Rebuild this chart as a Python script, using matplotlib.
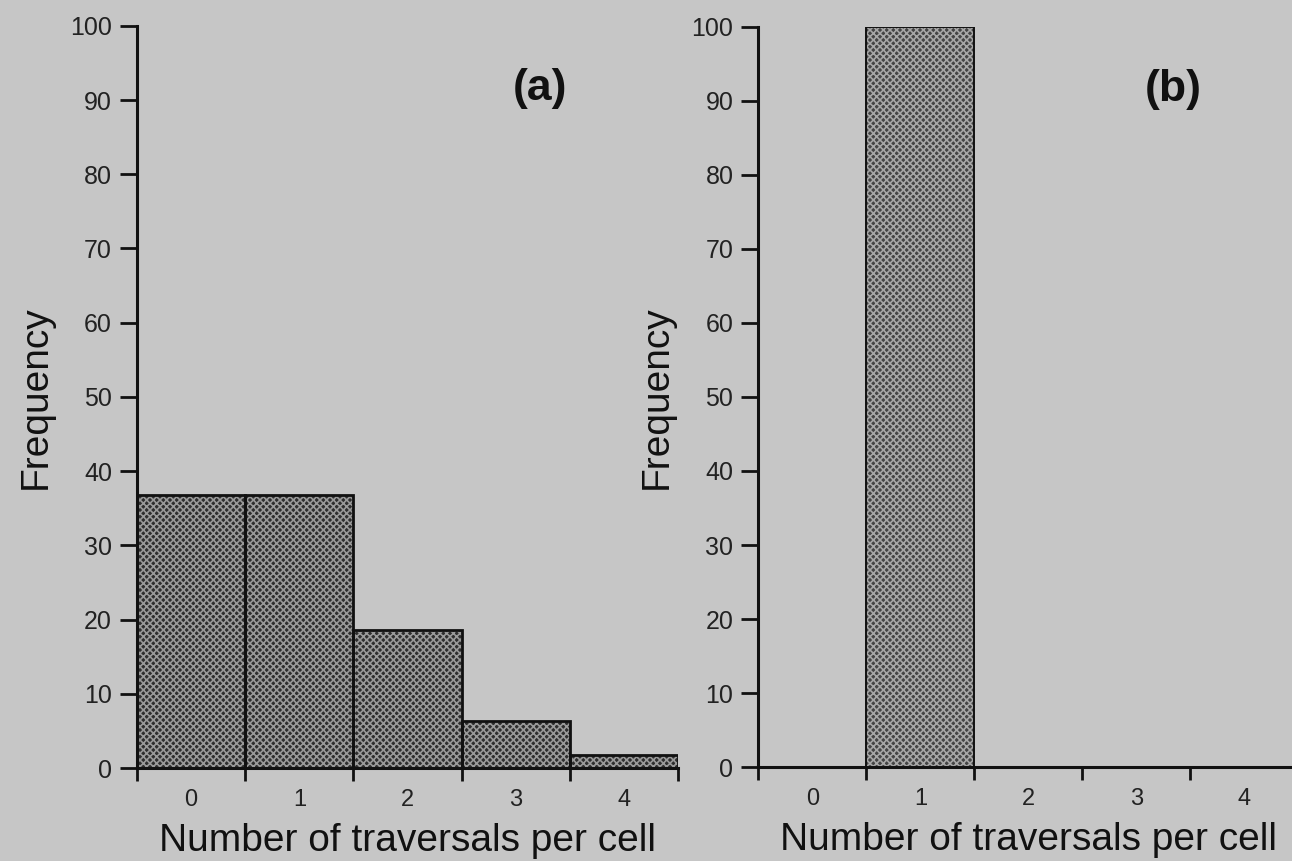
import numpy as np
import matplotlib
matplotlib.use('Agg')
import matplotlib.pyplot as plt

plt.rcParams['font.family'] = ['Liberation Sans', 'DejaVu Sans']
plt.rcParams['hatch.linewidth'] = 1.2

# data
traversals = [0, 1, 2, 3, 4]
freq_a = [36.8, 36.8, 18.6, 6.4, 1.7]
freq_b = [0, 100, 0, 0, 0]
panel_labels = ['(a)', '(b)']
xlabel = 'Number of traversals per cell'
ylabel = 'Frequency'

bg = '#c6c6c6'
fig = plt.figure(figsize=(12.92, 8.61), dpi=100, facecolor=bg)

ax_a = fig.add_axes([0.106, 0.108, 0.419, 0.862])
ax_b = fig.add_axes([0.587, 0.109, 0.418, 0.860])

for ax, freq, lab, lx, face, hc, ew in [(ax_a, freq_a, panel_labels[0], 3.22, '#2e2e2e', '#999999', 2.0),
                                        (ax_b, freq_b, panel_labels[1], 3.34, '#444444', '#a6a6a6', 1.4)]:
    ax.set_facecolor(bg)
    # textured fill
    ax.bar(traversals, freq, width=1.0, color=face, hatch='xxxxx',
           edgecolor=hc, linewidth=0, zorder=2)
    # outlines
    ax.bar(traversals, freq, width=1.0, fill=False, edgecolor='#111111',
           linewidth=ew, zorder=3)
    ax.set_xlim(-0.5, 4.5)
    ax.set_ylim(0, 100)
    for s in ['top', 'right']:
        ax.spines[s].set_visible(False)
    for s in ['left', 'bottom']:
        ax.spines[s].set_linewidth(2.2)
        ax.spines[s].set_color('#111111')
        ax.spines[s].set_zorder(4)
    ax.set_yticks(np.arange(0, 101, 10))
    ax.set_xticks(np.arange(-0.5, 4.6, 1.0))
    ax.set_xticklabels([])
    ax.set_xticks(traversals, minor=True)
    ax.set_xticklabels([str(t) for t in traversals], minor=True)
    ax.tick_params(axis='x', which='major', direction='out', length=9, width=2,
                   color='#111111')
    ax.tick_params(axis='x', which='minor', length=0, pad=15, labelsize=17,
                   labelcolor='#222222')
    ax.tick_params(axis='y', direction='out', length=12, width=2,
                   color='#111111', pad=6, labelsize=18, labelcolor='#222222')
    ax.set_xlabel(xlabel, fontsize=28, labelpad=9, color='#111111')
    ax.set_ylabel(ylabel, fontsize=28, labelpad=12, color='#111111')
    ax.text(lx, 91.5, lab, fontsize=32, fontweight='bold', ha='center',
            va='center', color='#111111')

fig.savefig('out.png', dpi=100, facecolor=bg)
